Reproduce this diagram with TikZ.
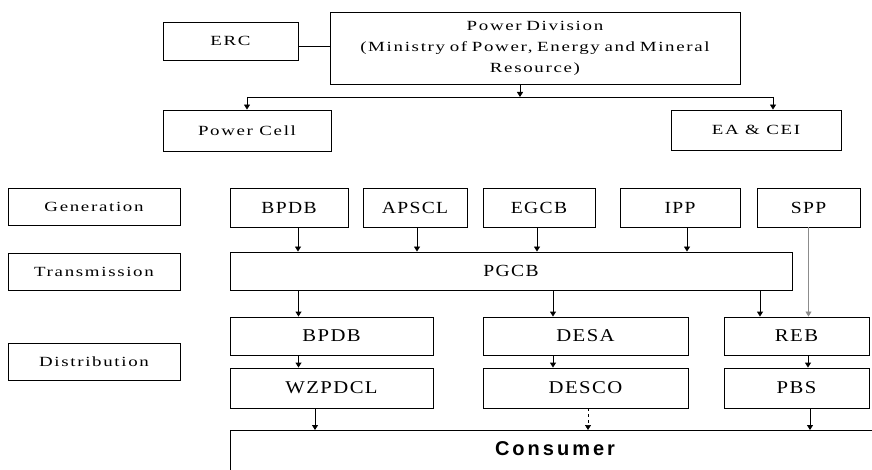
\documentclass[tikz,border=0pt]{standalone}
\usepackage{fontspec}
\setmainfont{Liberation Serif}
\newfontfamily\bxfont{Liberation Serif}[FakeStretch=1.35,LetterSpace=12]
\newfontfamily\rowfont{Liberation Serif}[FakeStretch=1.15,LetterSpace=8]
\newfontfamily\consfont{Liberation Sans}[LetterSpace=15]
\usetikzlibrary{arrows.meta}
\begin{document}
\begin{tikzpicture}[x=1pt,y=-1pt,
  box/.style={draw, line width=0.9pt, inner sep=0pt},
  lbl/.style={font=\bxfont\fontsize{14}{16}\selectfont},
  gen/.style={font=\rowfont\fontsize{17}{19}\selectfont},
  dist/.style={font=\rowfont\fontsize{18}{20}\selectfont},
  arr/.style={-{Triangle[length=5pt,width=6pt]}, line width=0.9pt},
  conn/.style={line width=0.9pt}]
\useasboundingbox (0,0) rectangle (872,470);
% top
\node[box,lbl,minimum width=135pt,minimum height=38pt] (erc) at (230.5,41) {ERC};
\node[box,minimum width=410pt,minimum height=72pt,text width=400pt,align=center,
  font=\bxfont\fontsize{14}{21}\selectfont] (pd) at (535,48)
  {Power Division\\(Ministry of Power, Energy and Mineral\\Resource)};
\node[box,lbl,minimum width=168pt,minimum height=41pt] (pc) at (247,130.5) {Power Cell};
\node[box,lbl,minimum width=170pt,minimum height=40pt] (ea) at (756,130) {EA \& CEI};
\draw[conn] ([yshift=-5pt]erc.east) -- ([yshift=-5pt]erc.east -| pd.west);
\coordinate (busL) at (247,97);
\coordinate (busR) at (773,97);
\draw[conn] (busL) -- (busR);
\draw[arr] ([xshift=-15pt]pd.south) -- ([xshift=-15pt]pd.south |- busL);
\draw[arr] (busL) -- (busL |- pc.north);
\draw[arr] (busR) -- (busR |- ea.north);
% side labels
\node[box,lbl,minimum width=172pt,minimum height=37pt] (lgen) at (94,206.5) {Generation};
\node[box,lbl,minimum width=172pt,minimum height=37pt] (ltra) at (94,271.5) {Transmission};
\node[box,lbl,minimum width=172pt,minimum height=37pt] (ldis) at (94,361.5) {Distribution};
% generation
\node[box,gen,minimum width=118pt,minimum height=39pt] (g1) at (289,207.5) {BPDB};
\node[box,gen,minimum width=104pt,minimum height=39pt] (g2) at (415,207.5) {APSCL};
\node[box,gen,minimum width=112pt,minimum height=39pt] (g3) at (539,207.5) {EGCB};
\node[box,gen,minimum width=120pt,minimum height=39pt] (g4) at (680,207.5) {IPP};
\node[box,gen,minimum width=103pt,minimum height=39pt] (g5) at (808.5,207.5) {SPP};
% transmission
\node[box,gen,minimum width=562pt,minimum height=38pt] (pgcb) at (511,271) {PGCB};
% distribution
\node[box,dist,minimum width=203pt,minimum height=38pt] (d1) at (331.5,336) {BPDB};
\node[box,dist,minimum width=205pt,minimum height=38pt] (d2) at (585.5,336) {DESA};
\node[box,dist,minimum width=145pt,minimum height=38pt] (d3) at (796.5,336) {REB};
\node[box,dist,minimum width=203pt,minimum height=40pt] (e1) at (331.5,388) {WZPDCL};
\node[box,dist,minimum width=205pt,minimum height=40pt] (e2) at (585.5,388) {DESCO};
\node[box,dist,minimum width=145pt,minimum height=40pt] (e3) at (796.5,388) {PBS};
% generation -> PGCB
\draw[arr] ([xshift=9pt]g1.south) -- ([xshift=9pt]g1.south |- pgcb.north);
\draw[arr] ([xshift=2pt]g2.south) -- ([xshift=2pt]g2.south |- pgcb.north);
\draw[arr] ([xshift=-2pt]g3.south) -- ([xshift=-2pt]g3.south |- pgcb.north);
\draw[arr] ([xshift=7pt]g4.south) -- ([xshift=7pt]g4.south |- pgcb.north);
\draw[arr,draw=black!45,line width=0.6pt] (g5.south) -- (g5.south |- d3.north);
% PGCB -> distribution
\draw[arr] ([xshift=-33pt]d1.north |- pgcb.south) -- ([xshift=-33pt]d1.north);
\draw[arr] ([xshift=-32.5pt]d2.north |- pgcb.south) -- ([xshift=-32.5pt]d2.north);
\draw[arr] ([xshift=-36.5pt]d3.north |- pgcb.south) -- ([xshift=-36.5pt]d3.north);
% distribution -> second row
\draw[arr] ([xshift=-33pt]d1.south) -- ([xshift=-33pt]d1.south |- e1.north);
\draw[arr] ([xshift=-32.5pt]d2.south) -- ([xshift=-32.5pt]d2.south |- e2.north);
\draw[arr] ([xshift=11.5pt]d3.south) -- ([xshift=11.5pt]d3.south |- e3.north);
% consumer
\coordinate (cL) at (230,430);
\coordinate (cR) at (872,430);
\coordinate (cB) at (230,470);
\draw[conn] (cB) -- (cL) -- (cR);
\node[font=\consfont\bfseries\fontsize{20}{22}\selectfont] (cons) at (555,449) {Consumer};
\draw[arr] ([xshift=-16.5pt]e1.south) -- ([xshift=-16.5pt]e1.south |- cL);
\draw[arr,dashed,line width=0.6pt] ([xshift=2.5pt]e2.south) -- ([xshift=2.5pt]e2.south |- cL);
\draw[arr] ([xshift=13.5pt]e3.south) -- ([xshift=13.5pt]e3.south |- cL);
\end{tikzpicture}
\end{document}
